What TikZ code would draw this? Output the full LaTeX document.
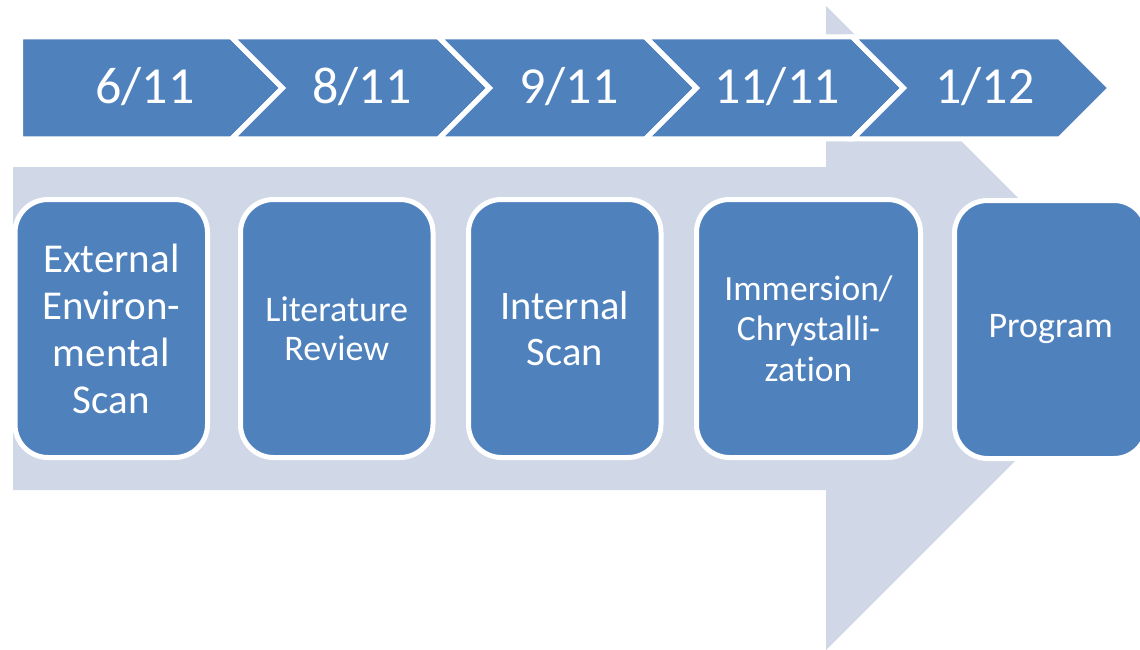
\documentclass[tikz,border=0pt]{standalone}
\usepackage{fontspec}
\setmainfont[Ligatures={NoCommon}]{Carlito}
\definecolor{mainblue}{HTML}{4F81BD}
\definecolor{lightband}{HTML}{D0D8E8}
\tikzset{
  chev/.style={fill=mainblue, draw=white, line width=5pt, line join=miter},
  datetext/.style={text=white, inner sep=0pt, font=\fontsize{52}{62}\selectfont},
  stepbox/.style={rectangle, rounded corners=33pt, fill=mainblue, draw=white, line width=5pt,
     text=white, align=center, inner sep=0pt, minimum height=258pt},
  bigarrow/.style={fill=lightband, draw=none}
}
\begin{document}
\begin{tikzpicture}[x=1pt,y=-1pt]
\useasboundingbox (0,0) rectangle (1140,650);
\clip (0,0) rectangle (1140,650);
% background big arrow
\path[bigarrow] (13,167) -- (826,167) -- (826,6) -- (1148,328) -- (826,650) -- (826,490) -- (13,490) -- cycle;
% top chevron row
\path[chev] (20.5,37) -- (231.5,37) -- (282.5,88) -- (231.5,139) -- (20.5,139) -- cycle;
\path[chev] (231.5,37) -- (438.5,37) -- (489.5,88) -- (438.5,139) -- (231.5,139) -- (282.5,88) -- cycle;
\path[chev] (438.5,37) -- (645.5,37) -- (696.5,88) -- (645.5,139) -- (438.5,139) -- (489.5,88) -- cycle;
\path[chev] (645.5,37) -- (852.5,37) -- (903.5,88) -- (852.5,139) -- (645.5,139) -- (696.5,88) -- cycle;
\path[chev] (852.5,37) -- (1059.5,37) -- (1110.5,88) -- (1059.5,139) -- (852.5,139) -- (903.5,88) -- cycle;
\node[datetext] (d1) at (145,87) {6/11};
\node[datetext] (d2) at (362,87) {8/11};
\node[datetext] (d3) at (569,87) {9/11};
\node[datetext] (d4) at (777,87) {11/11};
\node[datetext] (d5) at (985,87) {1/12};
% step boxes
\node[stepbox, minimum width=192.5pt, font=\fontsize{41}{47}\selectfont] (b1) at (111.25,328.5)
  {External\\Environ-\\mental\\Scan};
\node[stepbox, minimum width=192.5pt, font=\fontsize{36}{39}\selectfont] (b2) at (336.75,328.5)
  {Literature\\Review};
\node[stepbox, minimum width=192.5pt, font=\fontsize{40.5}{46}\selectfont] (b3) at (564.75,328.5)
  {Internal\\Scan};
\node[stepbox, minimum width=224pt, font=\fontsize{35.5}{40.5}\selectfont] (b4) at (808.5,328.5)
  {Immersion/\\Chrystalli-\\zation};
\node[stepbox, minimum width=192.5pt, font=\fontsize{36}{43}\selectfont] (b5) at (1050.75,329.5)
  {Program};
\end{tikzpicture}
\end{document}
